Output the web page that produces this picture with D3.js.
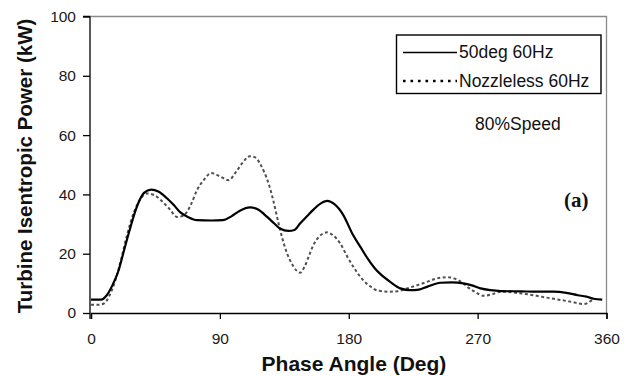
<!DOCTYPE html>
<html>
<head>
<meta charset="utf-8">
<script src="https://cdn.jsdelivr.net/npm/d3@7"></script>
<style>
  html, body { margin: 0; padding: 0; background: #fff; }
  svg { display: block; }
</style>
</head>
<body>
<svg id="chart" width="630" height="376"></svg>
<script>
// ---- Data ----
const xTicks = [0, 90, 180, 270, 360];
const yTicks = [0, 20, 40, 60, 80, 100];

const solidAngle = [0, 7, 11, 15, 19, 23, 27, 32, 37, 42, 47, 53, 58, 62, 68, 74, 84, 92, 98, 104, 111, 117, 123, 128, 132, 138, 142, 146, 151, 155, 160, 165, 170, 176, 183, 188, 193, 198, 202, 209, 216, 223, 229, 235, 244, 252, 260, 266, 272, 279, 286, 300, 312, 323, 332, 340, 346, 351, 357];
const solidPower = [4.5, 4.5, 6, 9.4, 14, 21, 28, 35.8, 40.5, 41.6, 41, 38.7, 36.3, 34.1, 32.3, 31.3, 31.2, 31.3, 32.6, 34.5, 35.6, 34.8, 32.4, 30.2, 28.5, 27.7, 28, 30.2, 32.7, 34.7, 36.8, 37.8, 36.7, 33.2, 26.3, 22.4, 18.5, 15.2, 13.2, 10.5, 8.3, 7.7, 7.9, 8.9, 10.2, 10.3, 10, 9.3, 8.3, 7.7, 7.4, 7.3, 7.2, 7.2, 6.8, 6, 5.5, 4.8, 4.5];

const dashAngle = [0, 5, 9, 13, 17, 21, 25, 30, 35, 39, 44, 50, 55, 60, 64, 67, 70, 74, 79, 84, 90, 96, 102, 106, 111, 115, 118, 121, 124, 127, 131, 134, 137, 141, 146, 149, 152, 155, 158, 162, 165, 169, 174, 179, 184, 190, 195, 200, 207, 214, 220, 228, 234, 239, 244, 249, 254, 260, 264, 268, 274, 280, 286, 295, 309, 318, 328, 336, 344, 350];
const dashPower = [2.8, 2.8, 3.2, 6, 11, 18, 26, 34, 38.8, 40.3, 39.8, 37.5, 35, 32.4, 32.7, 34.1, 36.8, 41.4, 45, 47.2, 46.1, 44.8, 48.1, 50.8, 52.9, 52.4, 50.4, 47.5, 43.7, 38.5, 30.2, 24.5, 20, 16, 13.6, 15.5, 19, 22.6, 25, 26.8, 27.2, 26.2, 23.5, 19, 15, 11.1, 9, 7.6, 7.2, 7.3, 8.2, 9.4, 10.4, 11.3, 11.9, 12.1, 11.6, 10, 8.4, 7.2, 5.8, 6.3, 7.2, 6.9, 6, 5.2, 4.4, 3.7, 3, 4.4];

const seriesNames = ["50deg 60Hz", "Nozzleless 60Hz"];
const xTitle = "Phase Angle (Deg)";
const yTitle = "Turbine Isentropic Power (kW)";
const noteText = "80%Speed";
const panelLabel = "(a)";

// ---- Layout ----
const svg = d3.select("#chart");
const pLeft = 91, pRight = 606.5, pTop = 16.5, pBottom = 313;

const x = d3.scaleLinear().domain([0, 360]).range([pLeft, pRight]);
const y = d3.scaleLinear().domain([0, 100]).range([pBottom, pTop]);

const font = "Arial, 'Liberation Sans', Helvetica, sans-serif";

// plot frame (top & right, grey)
svg.append("path")
  .attr("d", `M${pLeft},${pTop}H${pRight}V${pBottom}`)
  .attr("fill", "none").attr("stroke", "#8a8a8a").attr("stroke-width", 1.3);

// axes
const xAxis = d3.axisBottom(x).tickValues(xTicks).tickSize(6).tickPadding(14).tickFormat(d3.format("d"));
const gx = svg.append("g").attr("transform", `translate(0,${pBottom})`).call(xAxis);
gx.select(".domain").attr("stroke", "#000").attr("stroke-width", 1.3);
gx.selectAll(".tick line").attr("stroke", "#000").attr("stroke-width", 1.3);
gx.selectAll(".tick text").attr("font-family", font).attr("font-size", 15.5).attr("fill", "#1a1a1a");

const yAxis = d3.axisLeft(y).tickValues(yTicks).tickSize(7).tickPadding(7).tickFormat(d3.format("d"));
const gy = svg.append("g").attr("transform", `translate(${pLeft - 1},0)`).call(yAxis);
gy.select(".domain").attr("stroke", "#000").attr("stroke-width", 1.3).attr("d", `M-7,${pTop}H0V${pBottom + 6}`);
gy.selectAll(".tick line").attr("stroke", "#000").attr("stroke-width", 1.3);
gy.selectAll(".tick text").attr("font-family", font).attr("font-size", 15.5).attr("fill", "#1a1a1a");

// lines
const line = d3.line().x(d => x(d[0])).y(d => y(d[1])).curve(d3.curveMonotoneX);

const dashData = d3.zip(dashAngle, dashPower);
const solidData = d3.zip(solidAngle, solidPower);

svg.append("path").datum(dashData)
  .attr("d", line).attr("fill", "none")
  .attr("stroke", "#505050").attr("stroke-width", 2).attr("stroke-dasharray", "3,2.5");

svg.append("path").datum(solidData)
  .attr("d", line).attr("fill", "none")
  .attr("stroke", "#000").attr("stroke-width", 2.2);

// legend
const lg = svg.append("g");
lg.append("rect").attr("x", 396.5).attr("y", 35).attr("width", 204.5).attr("height", 58.5)
  .attr("fill", "#fff").attr("stroke", "#000").attr("stroke-width", 1.4);
lg.append("line").attr("x1", 403).attr("x2", 457).attr("y1", 52.5).attr("y2", 52.5)
  .attr("stroke", "#000").attr("stroke-width", 1.6);
lg.append("line").attr("x1", 403).attr("x2", 457).attr("y1", 81).attr("y2", 81)
  .attr("stroke", "#000").attr("stroke-width", 2.6).attr("stroke-dasharray", "2.6,4.9");
lg.append("text").attr("x", 459).attr("y", 58).text(seriesNames[0])
  .attr("font-family", font).attr("font-size", 17.5).attr("fill", "#111");
lg.append("text").attr("x", 459).attr("y", 86.5).text(seriesNames[1])
  .attr("font-family", font).attr("font-size", 17.5).attr("fill", "#111");

// annotation
svg.append("text").attr("x", 475).attr("y", 130).text(noteText)
  .attr("font-family", font).attr("font-size", 17.5).attr("fill", "#111");
svg.append("text").attr("x", 564).attr("y", 207).text(panelLabel)
  .attr("font-family", "'Times New Roman', 'Liberation Serif', serif").attr("font-weight", "bold")
  .attr("font-size", 21).attr("fill", "#111");

// axis titles
svg.append("text").attr("x", 354).attr("y", 370.5).attr("text-anchor", "middle").text(xTitle)
  .attr("font-family", font).attr("font-weight", "bold").attr("font-size", 21).attr("fill", "#111");
svg.append("text").attr("transform", "translate(32,166) rotate(-90)").attr("text-anchor", "middle").text(yTitle)
  .attr("font-family", font).attr("font-weight", "bold").attr("font-size", 20.5).attr("fill", "#111");
</script>
</body>
</html>
